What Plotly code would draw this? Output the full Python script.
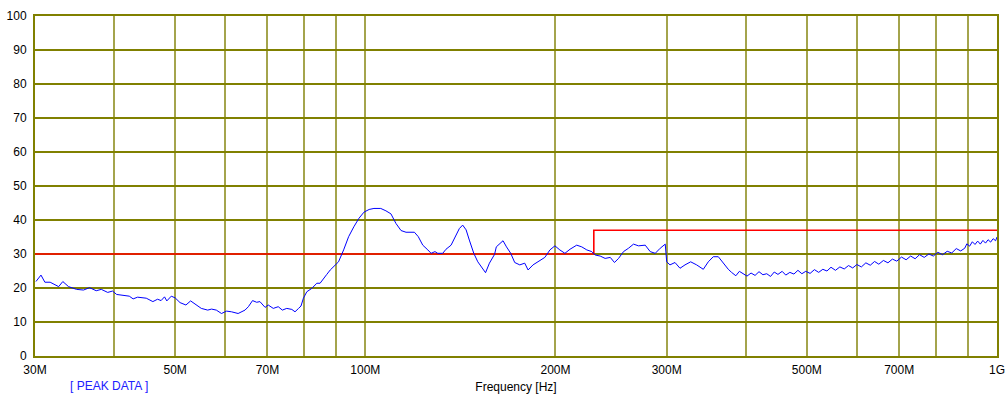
import plotly.graph_objects as go

# Measured peak level (dBuV) versus frequency (MHz)
freq_mhz = [
    30.1, 30.66, 31.1, 31.7, 32.7, 33.2, 33.9, 34.9, 35.8, 36.6, 37.5, 38.2, 39.1, 39.8,
    40.4, 41.5, 42.3, 42.9, 43.6, 45.0, 46.1, 46.9, 47.5, 48.1, 48.5, 49.3, 50.0, 50.9,
    52.0, 52.9, 54.0, 55.0, 56.3, 57.1, 58.1, 59.2, 60.3, 61.4, 62.9, 64.5, 65.3, 66.3,
    67.3, 68.1, 69.4, 70.2, 71.5, 72.8, 73.9, 75.1, 76.5, 77.4, 78.4, 79.1, 79.8, 80.8,
    82.3, 83.8, 84.8, 85.9, 86.9, 88.0, 90.7, 92.4, 94.1, 95.9, 97.7, 99.5, 101.4, 103.2,
    105.8, 107.8, 109.8, 111.8, 113.9, 116.0, 119.6, 121.3, 123.3, 125.6, 127.1, 128.9,
    130.2, 132.6, 134.2, 136.7, 139.2, 140.9, 142.6, 144.4, 146.1, 148.5, 150.7, 153.5,
    155.0, 157.2, 160.2, 161.2, 165.2, 167.3, 169.9, 172.4, 175.6, 178.8, 181.0, 184.3,
    187.7, 192.4, 196.0, 199.6, 203.2, 207.0, 210.9, 216.1, 220.1, 224.2, 228.3, 231.1,
    235.4, 239.7, 244.2, 248.0, 251.7, 256.3, 261.0, 265.8, 270.7, 277.4, 282.5, 287.7,
    293.0, 296.6, 298.4, 300.0, 303.6, 309.2, 314.9, 320.7, 327.4, 334.6, 342.8, 349.1,
    355.5, 362.1, 368.7, 375.5,
    380, 386, 391, 397, 402, 408, 414, 420, 426, 432, 438, 444, 450, 457, 463, 470, 477,
    484, 491, 498, 506, 514, 522, 530, 538, 546, 555, 564, 573, 582, 591, 600, 610, 620,
    630, 640, 650, 661, 672, 683, 694, 706, 718, 730, 742, 754, 767, 780, 793, 806, 820,
    834, 848, 862, 876, 889, 896, 905, 914, 923, 932, 941, 950, 959, 968, 977, 986, 995,
    1000,
]
level_dbuv = [
    21.9, 23.8, 21.7, 21.7, 20.4, 21.9, 20.4, 19.6, 19.4, 20.1, 19.2, 19.6, 18.7, 19.1,
    18.1, 17.7, 17.6, 16.8, 17.3, 17.0, 16.0, 16.7, 16.3, 17.4, 16.2, 17.6, 17.1, 15.7,
    15.0, 16.2, 15.0, 14.0, 13.5, 13.8, 13.5, 12.5, 13.2, 13.0, 12.5, 13.5, 14.5, 16.3,
    15.8, 16.0, 14.3, 15.0, 14.0, 14.5, 13.5, 14.0, 13.7, 13.0, 14.0, 14.7, 17.0, 18.9,
    19.9, 21.4, 21.4, 22.9, 24.0, 25.3, 27.7, 31.2, 35.1, 38.0, 40.5, 42.3, 43.1, 43.4,
    43.4, 42.7, 41.8, 39.0, 36.9, 36.4, 36.4, 35.1, 32.6, 31.2, 30.2, 30.7,
    30.2, 30.2, 31.4, 32.6, 35.6, 37.5, 38.5, 37.1, 34.1, 30.2, 27.7, 25.8,
    24.5, 27.3, 29.9, 32.1, 33.9, 32.1, 30.2, 27.5, 26.8, 27.3, 25.3, 26.8,
    27.7, 29.0, 31.2, 32.4, 31.2, 30.2, 31.4, 32.6, 32.1, 31.2, 30.7, 29.7,
    29.4, 28.7, 29.0, 27.5, 28.7, 30.7, 31.7, 32.9, 32.4, 32.6, 30.7, 30.2,
    31.7, 32.6, 32.9, 27.7, 26.8, 27.5, 25.8, 26.8, 27.7, 26.8, 25.5, 27.7,
    29.2, 29.2, 27.3, 25.5,
    24.6, 23.6, 24.9, 24.0, 23.5, 24.4, 23.7, 24.8, 23.9, 24.2, 23.4, 24.7, 24.0, 24.9, 23.8, 24.6, 24.1,
    25.2, 24.2, 24.9, 24.3, 25.4, 24.6, 25.5, 25.0, 26.1, 25.2, 26.2, 25.6, 26.6, 25.9, 26.9, 26.2, 27.4,
    26.7, 27.8, 27.0, 28.1, 27.4, 28.5, 27.9, 29.1, 28.3, 29.4, 28.6, 29.8, 29.0, 30.0, 29.4, 30.5, 29.8,
    30.8, 30.3, 31.6, 30.9, 31.7, 33.0, 32.3, 33.6, 32.8, 33.8, 32.9, 34.0, 33.2, 34.2, 33.5, 34.5, 33.9,
    35.0,
]

# Class limit: 30 dBuV up to 230 MHz, 37 dBuV above
limit_freq = [30, 230, 230, 1000]
limit_level = [30, 30, 37, 37]

major_ticks = [30, 50, 70, 100, 200, 300, 500, 700, 1000]
major_labels = ["30M", "50M", "70M", "100M", "200M", "300M", "500M", "700M", "1G"]
minor_ticks = [40, 60, 80, 90, 400, 600, 800, 900]
y_ticks = list(range(0, 101, 10))

OLIVE = "#808000"
OLIVE_V = "#a4a44c"

fig = go.Figure()
fig.add_trace(go.Scatter(
    x=limit_freq, y=limit_level, mode="lines",
    line=dict(color="#ff0000", width=1.6), showlegend=False, hoverinfo="skip",
))
fig.add_trace(go.Scatter(
    x=freq_mhz, y=level_dbuv, mode="lines",
    line=dict(color="#0000ff", width=1), showlegend=False,
))

fig.update_layout(
    width=1005, height=397,
    margin=dict(l=35, r=8, t=16, b=41, autoexpand=False),
    paper_bgcolor="white", plot_bgcolor="white",
    font=dict(family="Liberation Sans, Arial, sans-serif", size=12, color="#000000"),
    xaxis=dict(
        type="log", range=[1.4771, 3.0], automargin=False,
        tickmode="array", tickvals=major_ticks, ticktext=major_labels,
        ticklabeloverflow="allow",
        showgrid=True, gridcolor=OLIVE_V, gridwidth=2,
        minor=dict(tickmode="array", tickvals=minor_ticks, showgrid=True,
                   gridcolor=OLIVE_V, gridwidth=2, ticks=""),
        showline=True, linecolor=OLIVE, linewidth=2, mirror=True,
        ticks="", zeroline=False, ticklabelstandoff=2,
        title=dict(text="Frequency [Hz]", standoff=6, font=dict(size=12)),
    ),
    yaxis=dict(
        range=[0, 100], tickmode="array", tickvals=y_ticks, automargin=False,
        showgrid=True, gridcolor=OLIVE, gridwidth=1.5,
        showline=True, linecolor=OLIVE, linewidth=2, mirror=True,
        ticks="", zeroline=False, ticklabelstandoff=4,
    ),
    annotations=[dict(
        text="[ PEAK DATA ]", xref="paper", yref="paper",
        x=0.034, y=-0.088, xanchor="left", yanchor="middle",
        showarrow=False, font=dict(color="#2020ff", size=12),
    )],
)

fig.write_html("out.html")
